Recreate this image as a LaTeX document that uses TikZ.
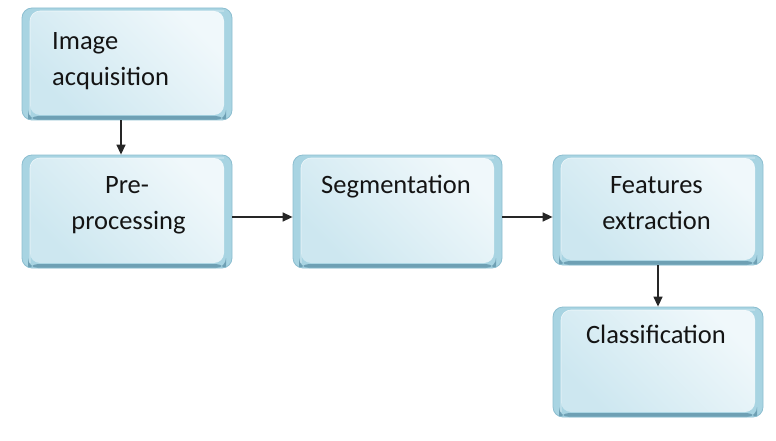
\documentclass[tikz,border=0pt]{standalone}
\usepackage{fontspec}
\setmainfont{Carlito}
\usetikzlibrary{arrows.meta}
\definecolor{edgeblue}{RGB}{168,212,226}
\definecolor{lineblue}{RGB}{140,190,208}
\definecolor{shadowblue}{RGB}{110,160,180}
\definecolor{innerdark}{RGB}{205,231,240}
\definecolor{innerlight}{RGB}{240,248,251}
\definecolor{txt}{RGB}{20,20,20}
\tikzset{
  procbox/.style={rectangle, rounded corners=10pt, fill=edgeblue, draw=lineblue, line width=0.8pt,
    inner sep=0pt, minimum width=210pt, minimum height=112pt,
    path picture={
      \fill[shadowblue] ([xshift=6pt]path picture bounding box.south west) rectangle ([xshift=-6pt,yshift=4pt]path picture bounding box.south east);
      \shade[left color=innerdark, right color=innerlight, shading angle=135]
        ([xshift=8pt,yshift=5pt]path picture bounding box.south west) rectangle ([xshift=-8pt,yshift=-3pt]path picture bounding box.north east);
      \draw[white, opacity=0.7, line width=0.6pt] ([xshift=8pt,yshift=5pt]path picture bounding box.south west) -- ([xshift=8pt,yshift=-3pt]path picture bounding box.north west) -- ([xshift=-8pt,yshift=-3pt]path picture bounding box.north east);
    }},
  boxtext/.style={font=\fontsize{26.5}{32}\selectfont, text=txt, inner sep=0pt, anchor=base},
  flow/.style={-{Triangle[length=10pt,width=9pt]}, line width=1.4pt, black!85}
}
\begin{document}
\begin{tikzpicture}[x=1pt,y=-1pt]
\useasboundingbox (0,0) rectangle (776,441);
\node[procbox] (b1) at (127,64) {};
\node[procbox, minimum height=113pt] (b2) at (127,211.5) {};
\node[procbox, minimum width=209pt, minimum height=113pt] (b3) at (397.5,211.5) {};
\node[procbox, minimum height=110pt] (b4) at (658,210) {};
\node[procbox, minimum height=110pt] (b5) at (658,362) {};

\node[boxtext, anchor=base west] (t1a) at (52,50) {Image};
\node[boxtext, anchor=base west] (t1b) at (52,86) {acquisition};
\node[boxtext] (t2a) at (127,193) {Pre-};
\node[boxtext] (t2b) at (128.5,229) {processing};
\node[boxtext] (t3a) at (396,193) {Segmentation};
\node[boxtext] (t4a) at (656.5,193) {Features};
\node[boxtext] (t4b) at (656.5,229) {extraction};
\node[boxtext] (t5a) at (656,343) {Classification};

\draw[flow] ([xshift=-6pt]b1.south) -- ([xshift=-6pt]b2.north);
\draw[flow] ([yshift=-5.5pt]b2.east) -- ([yshift=-5.5pt]b3.west);
\draw[flow] ([yshift=-5.5pt]b3.east) -- ([yshift=-7pt]b4.west);
\draw[flow] (b4.south) -- (b5.north);
\end{tikzpicture}
\end{document}
